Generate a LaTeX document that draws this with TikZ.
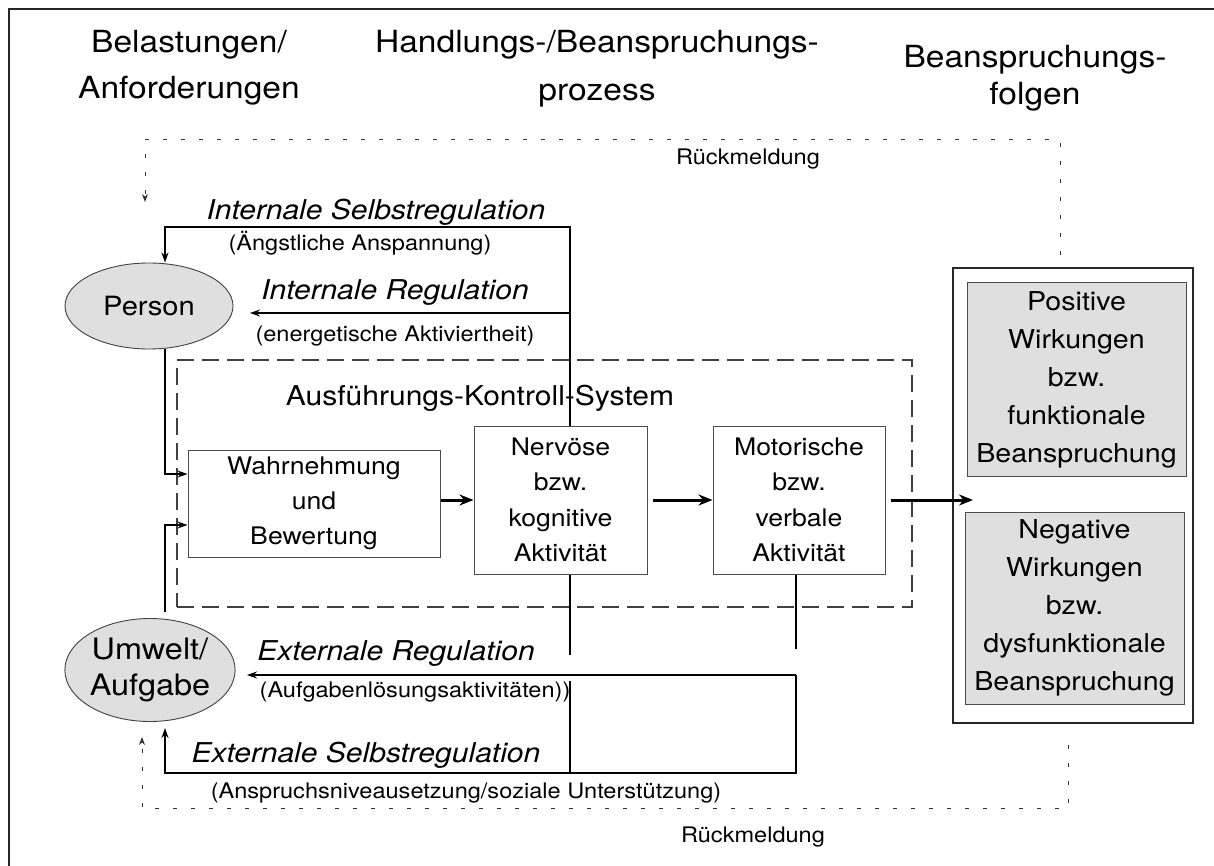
\documentclass[tikz,border=0pt]{standalone}
\usepackage{fontspec}
\setmainfont[FakeStretch=1.1]{TeX Gyre Heros}
\usetikzlibrary{shapes.geometric,arrows.meta,calc}
\newcommand\fsz[2]{\fontsize{#1}{#2}\selectfont}
\definecolor{lightfill}{gray}{0.875}
\begin{document}
\begin{tikzpicture}[x=1pt,y=-1pt,
  frame/.style={line width=1.6pt,black!85},
  hd/.style={anchor=base,inner sep=0pt,font=\fsz{30.5}{36}},
  il/.style={anchor=base,inner sep=0pt,font=\itshape\fsz{27.3}{30}},
  bl/.style={anchor=base,inner sep=0pt,font=\fsz{21.4}{25}},
  oval/.style={ellipse,draw=black!75,line width=0.9pt,fill=lightfill,inner sep=0pt},
  box/.style={draw=black!70,line width=1pt,align=center,inner sep=0pt},
  gbox/.style={box,fill=lightfill,font=\fsz{26}{38}},
  aksbox/.style={draw=black!75,line width=1.1pt,dash pattern=on 17pt off 8pt,inner sep=0pt},
  conn/.style={line width=1.8pt},
  arr/.style={-{Stealth[length=10pt,width=7pt]}},
  mainarr/.style={line width=3pt,-{Stealth[length=14pt,width=11pt]}},
  fb/.style={line width=1pt,black!80,dash pattern=on 4pt off 14pt},
  fbarr/.style={-{Stealth[length=8pt,width=6pt]}}
]
\useasboundingbox (0,0) rectangle (1214,866);

% outer frame
\draw[frame] (9,866) -- (9,9) -- (1214,9);

% column headings
\node[hd] (h1a) at (189,53) {Belastungen/};
\node[hd] (h1b) at (189,99) {Anforderungen};
\node[hd] (h2a) at (597,53) {Handlungs-/Beanspruchungs-};
\node[hd] (h2b) at (597,101) {prozess};
\node[hd] (h3a) at (1035,68) {Beanspruchungs-};
\node[hd] (h3b) at (1035,105) {folgen};

% execution control system
\node[aksbox,minimum width=735,minimum height=247] (aks) at (544.5,483.5) {};
\node[anchor=base,inner sep=0pt,font=\fsz{27.3}{30}] (akslabel) at (480,405) {Ausführungs-Kontroll-System};

% person and environment
\node[oval,minimum width=168,minimum height=86,font=\fsz{26.5}{30}] (person) at (149,306) {Person};
\node[oval,minimum width=166,minimum height=103,align=center,font=\fsz{29.5}{36}] (umwelt) at (150,670) {Umwelt/\\Aufgabe};

% processing stages
\node[box,minimum width=252,minimum height=107,font=\fsz{24.2}{35}] (wahr) at (314,503.5) {Wahrnehmung\\und\\Bewertung};
\node[box,minimum width=173,minimum height=148,font=\fsz{24.2}{35.5}] (nerv) at (560.5,500) {Nervöse\\bzw.\\kognitive\\Aktivität};
\node[box,minimum width=172,minimum height=148,font=\fsz{24.2}{35.5}] (motor) at (799,500) {Motorische\\bzw.\\verbale\\Aktivität};

% consequences
\node[draw=black!85,line width=1.4pt,minimum width=240,minimum height=455,inner sep=0pt] (folgen) at (1073,495.5) {};
\node[gbox,minimum width=219,minimum height=193] (pos) at (1076.5,379.5) {Positive\\Wirkungen\\bzw.\\funktionale\\Beanspruchung};
\node[gbox,minimum width=219,minimum height=192] (neg) at (1074.5,608) {Negative\\Wirkungen\\bzw.\\dysfunktionale\\Beanspruchung};

% helper coordinates
\coordinate (jx) at (570,0);
\coordinate (kx) at (796,0);
\coordinate (px) at (165,0);
\coordinate (isrY) at (0,227);
\coordinate (irY) at (0,313);
\coordinate (irTip) at (250,313);
\coordinate (pwY) at (0,474);
\coordinate (uwY) at (0,525);
\coordinate (uStart) at (165,612);
\coordinate (erY) at (0,675);
\coordinate (erTip) at (247,675);
\coordinate (esY) at (0,773);
\coordinate (gapA) at (0,655);
\coordinate (gapB) at (0,681);
\coordinate (gapC) at (0,649);
\coordinate (uTip) at (165,728);
\coordinate (outTip) at (973,500);

% internal regulation loops
\draw[conn,arr] (nerv.north -| jx) -- (jx |- isrY) -- (px |- isrY) -- (person.north -| px);
\draw[conn,arr] (jx |- irY) -- (irTip);

% inputs into perception
\draw[conn,arr] (person.south -| px) -- (px |- pwY) -- (wahr.west |- pwY);
\draw[conn,arr] (uStart) -- (px |- uwY) -- (wahr.west |- uwY);

% external regulation loops
\draw[conn] (nerv.south -| jx) -- (jx |- gapA);
\draw[conn] (jx |- gapB) -- (jx |- esY);
\draw[conn] (motor.south -| kx) -- (kx |- gapC);
\draw[conn,arr] (kx |- erY) -- (erTip);
\draw[conn,arr] (kx |- erY) -- (kx |- esY) -- (px |- esY) -- (uTip);

% main flow
\draw[mainarr] (wahr.east |- nerv.west) -- (nerv.west);
\draw[mainarr] ([xshift=5pt]nerv.east) -- (motor.west);
\draw[mainarr] ([xshift=5pt]motor.east) -- (outTip);

% feedback loops
\coordinate (fbTopR) at (1060,255);
\coordinate (fbTopL) at (145,202);
\coordinate (fbTopY) at (0,140);
\coordinate (fbBotR) at (1068,745);
\coordinate (fbBotL) at (142,737);
\coordinate (fbBotY) at (0,808);
\draw[fb,fbarr] (fbTopR) -- (fbTopR |- fbTopY) -- (fbTopL |- fbTopY) -- (fbTopL);
\draw[fb,fbarr] (fbBotR) -- (fbBotR |- fbBotY) -- (fbBotL |- fbBotY) -- (fbBotL);

% labels
\node[il] (lisr) at (376,220) {Internale Selbstregulation};
\node[bl] (lang) at (360,251) {(Ängstliche Anspannung)};
\node[il] (lir) at (395,300) {Internale Regulation};
\node[bl] (lene) at (395,341) {(energetische Aktiviertheit)};
\node[il] (ler) at (396,660) {Externale Regulation};
\node[bl] (lauf) at (415,697) {(Aufgabenlösungsaktivitäten))};
\node[il] (lesr) at (366,762) {Externale Selbstregulation};
\node[bl] (lans) at (466,798) {(Anspruchsniveausetzung/soziale Unterstützung)};
\node[bl] (rm1) at (748,165) {Rückmeldung};
\node[bl] (rm2) at (753,842) {Rückmeldung};
\end{tikzpicture}
\end{document}
